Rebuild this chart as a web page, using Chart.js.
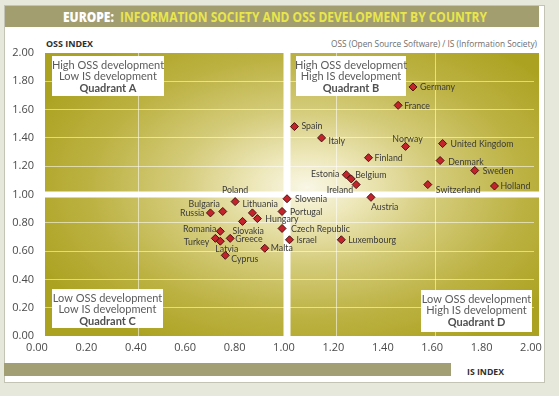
<!DOCTYPE html>
<html><head><meta charset="utf-8">
<script src="https://cdn.jsdelivr.net/npm/chart.js@4/dist/chart.umd.min.js"></script>
<style>
html,body{margin:0;padding:0;width:559px;height:396px;overflow:hidden;background:#e6e8db;}
#panel{position:absolute;left:4px;top:5px;width:541px;height:378px;background:#fff;border:1px solid #c3c4b4;box-sizing:border-box;}
#titlebar{position:absolute;left:5px;top:6px;width:534px;height:21px;background:#a29e70;}
.t{position:absolute;white-space:nowrap;transform-origin:0 50%;line-height:1;}
#title{font:bold 14px "Open Sans";color:#e9e64c;}
#title b{color:#fff;}
#ossidx{font:bold 9px "Open Sans";color:#2e2e2e;}
#note{font:9px "Open Sans";color:#6d6d6d;}
#bottombar{position:absolute;left:4px;top:363px;width:447px;height:13px;background:#a39f74;}
#isidx{font:bold 9px "Open Sans";color:#2e2e2e;}
#wrap{position:absolute;left:0;top:0;width:559px;height:396px;}
</style></head>
<body>
<div id="panel"></div>
<div id="titlebar"></div>
<div class="t" id="title"><b>EUROPE:</b>&nbsp; INFORMATION SOCIETY AND OSS DEVELOPMENT BY COUNTRY</div>
<div class="t" id="ossidx">OSS INDEX</div>
<div class="t" id="note">OSS (Open Source Software) / IS (Information Society)</div>
<div id="bottombar"></div>
<div class="t" id="isidx">IS INDEX</div>
<div id="wrap"><canvas id="c" width="559" height="396"></canvas></div>
<script>
// ---- data ----
const countries = ['Germany','France','Spain','Italy','Norway','United Kingdom','Finland','Denmark','Sweden','Estonia','Belgium','Ireland','Switzerland','Holland','Slovenia','Austria','Poland','Portugal','Lithuania','Hungary','Slovakia','Bulgaria','Russia','Czech Republic','Romania','Greece','Israel','Luxembourg','Turkey','Latvia','Malta','Cyprus'];
const isIndex  = [1.51,1.45,1.03,1.14,1.48,1.63,1.33,1.62,1.76,1.24,1.26,1.28,1.57,1.84,1.00,1.34,0.79,0.98,0.86,0.88,0.82,0.74,0.69,0.98,0.73,0.77,1.01,1.22,0.71,0.73,0.91,0.75];
const ossIndex = [1.76,1.63,1.48,1.40,1.34,1.36,1.26,1.24,1.17,1.14,1.11,1.07,1.07,1.06,0.97,0.98,0.95,0.88,0.87,0.83,0.81,0.88,0.87,0.76,0.74,0.69,0.68,0.68,0.69,0.67,0.62,0.57];
const xTickLabels = ['0.00','0.20','0.40','0.60','0.80','1.00','1.20','1.40','1.60','1.80','2.00'];
const yTickLabels = ['0.00','0.20','0.40','0.60','0.80','1.00','1.20','1.40','1.60','1.80','2.00'];
const quadA = ['High OSS development','Low IS development','Quadrant A'];
const quadB = ['High OSS development','High IS development','Quadrant B'];
const quadC = ['Low OSS development','Low IS development','Quadrant C'];
const quadD = ['Low OSS development','High IS development','Quadrant D'];

// label placement (text offset from marker, alignment)
const labelPlace = {
 'Germany':[7,0,'left'],'France':[6,0,'left'],'Spain':[7,-1,'left'],'Italy':[7,3,'left'],
 'Norway':[2,-8,'center'],'United Kingdom':[8,0,'left'],'Finland':[6,0,'left'],'Denmark':[8,1,'left'],
 'Sweden':[8,0,'left'],'Estonia':[-7,-1,'right'],'Belgium':[4,-4,'left'],'Ireland':[-3,5,'right'],
 'Switzerland':[8,5,'left'],'Holland':[6,0,'left'],'Slovenia':[8,0,'left'],'Austria':[0,9,'left'],
 'Poland':[0,-12,'center'],'Portugal':[8,0,'left'],'Lithuania':[-10,-9,'left'],'Hungary':[8,0,'left'],
 'Slovakia':[-10,9,'left'],'Bulgaria':[-3,-8,'right'],'Russia':[-6,0,'right'],'Czech Republic':[9,0,'left'],
 'Romania':[-4,-3,'right'],'Greece':[5,0,'left'],'Israel':[7,0,'left'],'Luxembourg':[7,0,'left'],
 'Turkey':[-6,3,'right'],'Latvia':[-5,8,'left'],'Malta':[6,0,'left'],'Cyprus':[6,3,'left']
};

function place(id, x, yc, w){
  const el=document.getElementById(id);
  const r=el.getBoundingClientRect();
  el.style.left=x+'px';
  el.style.top=(yc - r.height/2)+'px';
  if(w) el.style.transform='scaleX('+(w/r.width)+')';
}
place('title',63,16.5,424);
place('ossidx',46,43,47);
place('note',331,43,206);
place('isidx',467,371,37);

const bgPlugin = {
  id:'bg',
  beforeDraw(chart){
    const {ctx, chartArea:a, scales:{x,y}} = chart;
    const x0=a.left+5, x1=a.right+5, y0=a.top, y1=a.bottom;
    const cx=x.getPixelForValue(1.08), cy=y.getPixelForValue(1.05);
    const k=0.6;
    ctx.save();
    ctx.beginPath(); ctx.rect(x0,y0,x1-x0,y1-y0); ctx.clip();
    ctx.translate(cx,cy); ctx.scale(1,k);
    const g=ctx.createRadialGradient(0,0,0,0,0,300);
    g.addColorStop(0,'#f9f7e6');
    g.addColorStop(0.18,'#ede7b9');
    g.addColorStop(0.42,'#d5cc7c');
    g.addColorStop(0.72,'#bcb243');
    g.addColorStop(1,'#aca221');
    ctx.fillStyle=g;
    ctx.fillRect(x0-cx,(y0-cy)/k,x1-x0,(y1-y0)/k);
    ctx.restore();
  }
};

function drawBox(ctx, bx, by, w, h, lines){
  ctx.fillStyle='#ffffff';
  ctx.fillRect(bx,by,w,h);
  ctx.textAlign='center'; ctx.textBaseline='middle';
  const cx=bx+w/2;
  ctx.fillStyle='#5c5c5c';
  ctx.font='11px Lato';
  ctx.fillText(lines[0],cx,by+9);
  ctx.fillText(lines[1],cx,by+20.5);
  ctx.font='bold 11px Lato';
  ctx.fillStyle='#505050';
  ctx.fillText(lines[2],cx,by+32);
}

const overPlugin = {
  id:'over',
  beforeDatasetsDraw(chart){
    const {ctx, chartArea:a, scales:{x,y}} = chart;
    const x0=a.left+5, x1=a.right+5;
    const xm=x.getPixelForValue(1), ym=y.getPixelForValue(1);
    ctx.save();
    ctx.fillStyle='#ffffff';
    ctx.fillRect(xm-3.5,a.top,7,a.bottom-a.top);
    ctx.fillRect(x0,ym-3,x1-x0,6);
    drawBox(ctx,a.left+12,a.top+3,112,40,quadA);
    drawBox(ctx,xm+9,a.top+3,110,40,quadB);
    drawBox(ctx,a.left+12,a.bottom-47,111,39,quadC);
    drawBox(ctx,a.right-113,a.bottom-46,111,42,quadD);
    ctx.restore();
  },
  afterDatasetsDraw(chart){
    const {ctx} = chart;
    const meta=chart.getDatasetMeta(0);
    const sx=0.88;
    ctx.save();
    ctx.font='10px Lato';
    ctx.fillStyle='#3a3a3a';
    ctx.textBaseline='middle';
    meta.data.forEach((pt,i)=>{
      const name=countries[i];
      const p=labelPlace[name]||[6,0,'left'];
      ctx.save();
      ctx.translate(pt.x+p[0],pt.y+p[1]);
      ctx.scale(sx,1);
      ctx.textAlign=p[2];
      ctx.fillText(name,0,0);
      ctx.restore();
    });
    ctx.restore();
  }
};

const near=(v,arr)=>arr.some(a=>Math.abs(v-a)<1e-6);

new Chart(document.getElementById('c'),{
  type:'scatter',
  data:{datasets:[{
    data:countries.map((c,i)=>({x:isIndex[i],y:ossIndex[i]})),
    pointStyle:'rectRot',
    pointRadius:4,
    pointHoverRadius:4,
    backgroundColor:'#c3242c',
    borderColor:'#4a1212',
    borderWidth:1
  }]},
  options:{
    responsive:false,
    animation:false,
    events:[],
    layout:{padding:{left:0,right:25,top:53,bottom:40}},
    plugins:{legend:{display:false},tooltip:{enabled:false}},
    scales:{
      x:{
        type:'linear',min:0,max:2,
        afterFit:s=>{s.height=20;},
        border:{display:false},
        grid:{drawTicks:false,lineWidth:1,
          color:c=>near(Math.round(c.tick.value*10)/10,[0.4,1.2,1.6])?'rgba(255,255,255,0.55)':'rgba(0,0,0,0)'},
        ticks:{stepSize:0.2,padding:5,labelOffset:-3,maxRotation:0,autoSkip:false,
          font:{family:'Open Sans',size:11},color:'#4a4a4a',
          callback:(v,i)=>xTickLabels[i]}
      },
      y:{
        type:'linear',min:0,max:2,
        afterFit:s=>{s.width=40;},
        border:{display:false},
        grid:{drawTicks:false,lineWidth:1,
          color:c=>{const v=Math.round(c.tick.value*10)/10;return near(v,[0,1,2])?'rgba(0,0,0,0)':'rgba(255,255,255,0.55)';}},
        ticks:{stepSize:0.2,padding:6,autoSkip:false,
          font:{family:'Open Sans',size:11},color:'#4a4a4a',
          callback:(v,i)=>yTickLabels[i]}
      }
    }
  },
  plugins:[bgPlugin,overPlugin]
});
</script>
</body></html>
